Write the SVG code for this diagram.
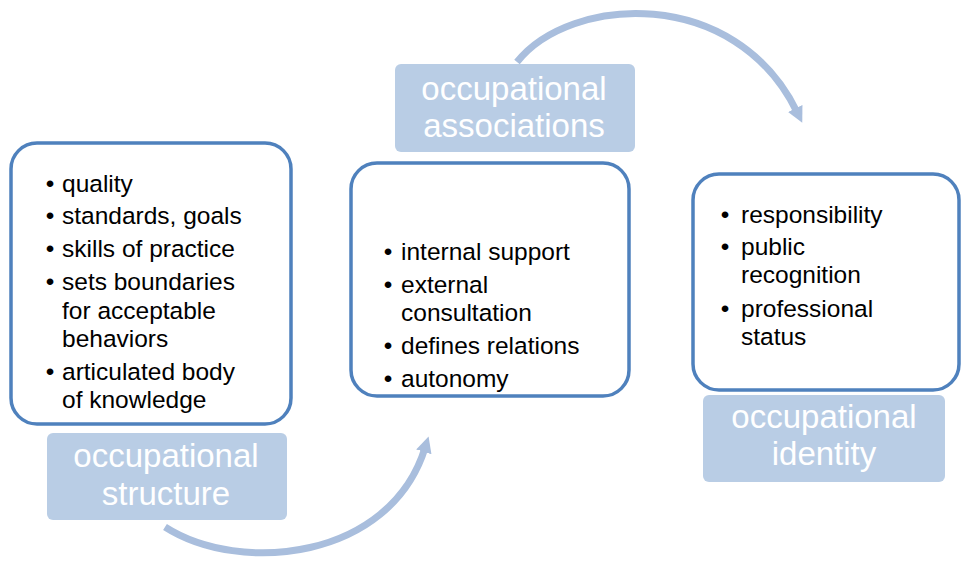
<svg xmlns="http://www.w3.org/2000/svg" width="962" height="562" viewBox="0 0 962 562">
<style>
.box{fill:#ffffff;stroke:#4F81BD;stroke-width:3.5}
.lbl{fill:#B9CDE5}
.t{font-family:"Liberation Sans",Arial,sans-serif;font-size:24.5px;fill:#000}
.b{font-family:"Liberation Sans",Arial,sans-serif;font-size:24.5px;fill:#000;text-anchor:middle}
.lt{font-family:"Liberation Sans",Arial,sans-serif;font-size:33px;fill:#ffffff;text-anchor:middle}
.arc{fill:none;stroke:#A9BEDD;stroke-width:7}
</style>
<defs>
<marker id="ah" markerUnits="userSpaceOnUse" markerWidth="20" markerHeight="20" viewBox="0 0 20 20" refX="4" refY="10" orient="auto">
<path d="M0,2 L16,10 L0,18 Z" fill="#A9BEDD"/>
</marker>
</defs>
<g id="connectors">
<path class="arc" d="M517,62 C570,-5 735,-15 797,112" marker-end="url(#ah)"/>
<path class="arc" d="M165,527 C240,575 390,560 425,448" marker-end="url(#ah)"/>
</g>
<g id="structure-box">
<rect class="box" x="11" y="143" width="280" height="281" rx="26"/>
<text class="b" x="50" y="192">•</text><text class="t" x="62" y="192">quality</text>
<text class="b" x="50" y="224">•</text><text class="t" x="62" y="224">standards, goals</text>
<text class="b" x="50" y="257">•</text><text class="t" x="62" y="257">skills of practice</text>
<text class="b" x="50" y="290">•</text><text class="t" x="62" y="290">sets boundaries</text>
<text class="t" x="62" y="318.5">for acceptable</text>
<text class="t" x="62" y="347">behaviors</text>
<text class="b" x="50" y="380">•</text><text class="t" x="62" y="380">articulated body</text>
<text class="t" x="62" y="408">of knowledge</text>
</g>
<g id="structure-label">
<rect class="lbl" x="47" y="433" width="240" height="87" rx="6"/>
<text class="lt" x="166" y="467">occupational</text>
<text class="lt" x="166" y="505">structure</text>
</g>
<g id="associations-box">
<rect class="box" x="351" y="163" width="278" height="233" rx="26"/>
<text class="b" x="388" y="260">•</text><text class="t" x="401" y="260">internal support</text>
<text class="b" x="388" y="293">•</text><text class="t" x="401" y="293">external</text>
<text class="t" x="401" y="321">consultation</text>
<text class="b" x="388" y="354">•</text><text class="t" x="401" y="354">defines relations</text>
<text class="b" x="388" y="387">•</text><text class="t" x="401" y="387">autonomy</text>
</g>
<g id="associations-label">
<rect class="lbl" x="395" y="64" width="240" height="88" rx="6"/>
<text class="lt" x="514" y="100">occupational</text>
<text class="lt" x="514" y="137">associations</text>
</g>
<g id="identity-box">
<rect class="box" x="693" y="174" width="266" height="216" rx="26"/>
<text class="b" x="725" y="222.5">•</text><text class="t" x="741" y="222.5">responsibility</text>
<text class="b" x="725" y="255">•</text><text class="t" x="741" y="255">public</text>
<text class="t" x="741" y="283">recognition</text>
<text class="b" x="725" y="316.5">•</text><text class="t" x="741" y="316.5">professional</text>
<text class="t" x="741" y="344.5">status</text>
</g>
<g id="identity-label">
<rect class="lbl" x="703" y="395" width="242" height="87" rx="6"/>
<text class="lt" x="824" y="428">occupational</text>
<text class="lt" x="824" y="465">identity</text>
</g>
</svg>
